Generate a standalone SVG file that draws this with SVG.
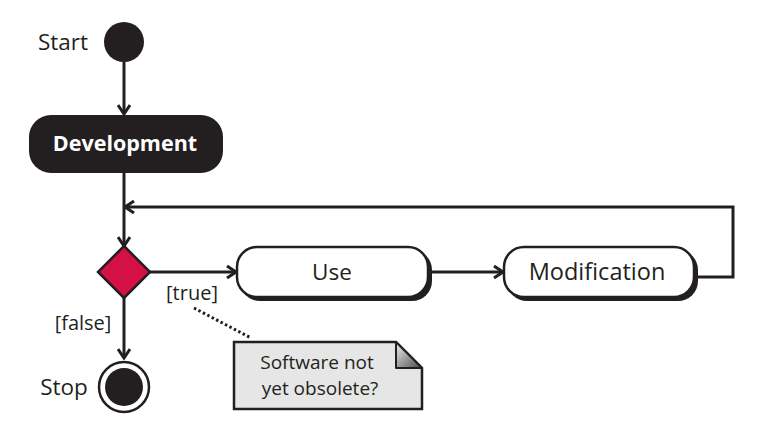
<svg xmlns="http://www.w3.org/2000/svg" width="762" height="427" viewBox="0 0 762 427">
<defs>
<style>
text{font-family:"Open Sans","Noto Sans","Liberation Sans",sans-serif;fill:#231f20;}
.lbl{font-size:22.5px;}
.grd{font-size:20px;}
.nt{font-size:19px;}
.edge{fill:none;stroke:#231f20;stroke-width:3;}
.box{fill:#fff;stroke:#231f20;stroke-width:2.5;}
.shadow{fill:#231f20;}
</style>
<marker id="arr" viewBox="0 0 14 14" refX="12" refY="7" markerWidth="14" markerHeight="14" markerUnits="userSpaceOnUse" orient="auto">
<path d="M3,1 L12,7 L3,13" fill="none" stroke="#231f20" stroke-width="3"/>
</marker>
<linearGradient id="fold" x1="0" y1="0" x2="1" y2="1">
<stop offset="0" stop-color="#f2f2f2"/>
<stop offset="1" stop-color="#4a4a4a"/>
</linearGradient>
</defs>
<g id="connectors">
<line class="edge" x1="124" y1="62" x2="124" y2="114" marker-end="url(#arr)"/>
<line class="edge" x1="124" y1="173" x2="124" y2="246" marker-end="url(#arr)"/>
<polyline class="edge" points="696,277 733,277 733,207 125,207" marker-end="url(#arr)"/>
<line class="edge" x1="150" y1="272" x2="236" y2="272" marker-end="url(#arr)"/>
<line class="edge" x1="430" y1="272" x2="503" y2="272" marker-end="url(#arr)"/>
<line class="edge" x1="124" y1="298" x2="124" y2="358" marker-end="url(#arr)"/>
<line x1="194" y1="308" x2="251" y2="338" stroke="#231f20" stroke-width="3" stroke-dasharray="2.5,2.5"/>
<text class="grd" x="192" y="300" text-anchor="middle">[true]</text>
<text class="grd" x="83" y="330" text-anchor="middle">[false]</text>
</g>
<g id="start">
<circle cx="124" cy="42" r="20" fill="#231f20"/>
<text class="lbl" x="63" y="50" text-anchor="middle">Start</text>
</g>
<g id="development">
<rect x="29" y="115" width="194" height="58" rx="22" fill="#231f20"/>
<text x="125" y="151" text-anchor="middle" style="font-size:21.5px;font-weight:bold;fill:#fff">Development</text>
</g>
<g id="decision">
<polygon points="124,246 150,272 124,298 98,272" fill="#d31145" stroke="#231f20" stroke-width="2.5"/>
</g>
<g id="use">
<rect class="shadow" x="240" y="250" width="192" height="51" rx="20"/>
<rect class="box" x="237" y="247" width="191" height="50" rx="20"/>
<text class="lbl" x="332" y="280" text-anchor="middle">Use</text>
</g>
<g id="modification">
<rect class="shadow" x="507" y="250" width="191" height="51" rx="20"/>
<rect class="box" x="504" y="247" width="190" height="50" rx="20"/>
<text class="lbl" x="597" y="280" text-anchor="middle" style="font-size:23.5px">Modification</text>
</g>
<g id="stop">
<circle cx="124" cy="387" r="25" fill="#fff" stroke="#231f20" stroke-width="2.5"/>
<circle cx="124" cy="387" r="19" fill="#231f20"/>
<text class="lbl" x="64" y="395" text-anchor="middle">Stop</text>
</g>
<g id="note">
<path d="M234,342 L396,342 L422,368 L422,409 L234,409 Z" fill="#e6e6e6" stroke="#231f20" stroke-width="2.5"/>
<path d="M396,342 L422,368 L396,368 Z" fill="url(#fold)" stroke="#231f20" stroke-width="2" stroke-linejoin="round"/>
<text class="nt" text-anchor="middle"><tspan x="317" y="368.5">Software not</tspan><tspan x="320" y="394.5">yet obsolete?</tspan></text>
</g>
</svg>
